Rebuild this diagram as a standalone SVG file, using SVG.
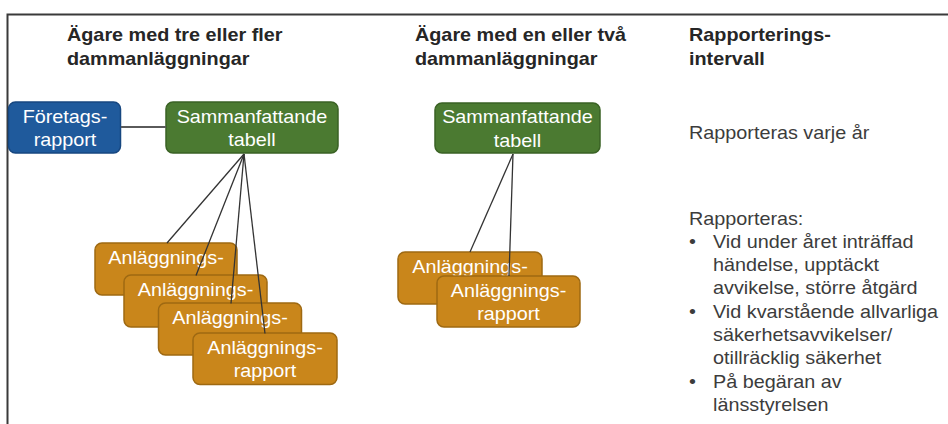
<svg xmlns="http://www.w3.org/2000/svg" width="948" height="424" viewBox="0 0 948 424">
<style>
  text { font-family: "Liberation Sans", Arial, sans-serif; font-size: 18px; }
  .h { font-weight: bold; fill: #262626; }
  .b { fill: #3c3c3c; }
  .nt { fill: #ffffff; text-anchor: middle; }
  .blue { fill: #1F5A9C; stroke: #174780; stroke-width: 1.5; }
  .green { fill: #4B7A31; stroke: #3A6224; stroke-width: 1.5; }
  .orange { fill: #C9861B; stroke: #9E6912; stroke-width: 1.5; }
  .c { stroke: #333333; stroke-width: 1.3; fill: none; }
  .c2 { stroke: #5a5a5a; stroke-width: 1.8; fill: none; }
</style>
<rect width="948" height="424" fill="#ffffff"/>
<path d="M7.5,424 V14.5 H948" fill="none" stroke="#3a3a3a" stroke-width="2"/>

<g id="headings">
  <text class="h" transform="translate(67,41) scale(1.1,1)">Ägare med tre eller fler</text>
  <text class="h" transform="translate(67,65) scale(1.1,1)">dammanläggningar</text>
  <text class="h" transform="translate(415,41) scale(1.1,1)">Ägare med en eller två</text>
  <text class="h" transform="translate(415,65) scale(1.1,1)">dammanläggningar</text>
  <text class="h" transform="translate(689,41) scale(1.1,1)">Rapporterings-</text>
  <text class="h" transform="translate(689,65) scale(1.1,1)">intervall</text>
</g>

<g id="foretagsrapport">
  <rect class="blue" x="8.5" y="102" width="112" height="51" rx="7"/>
  <text class="nt" transform="translate(65,123) scale(1.1,1)">Företags-</text>
  <text class="nt" transform="translate(65,146) scale(1.1,1)">rapport</text>
</g>

<g id="tabell-left">
  <rect class="green" x="166" y="102" width="172" height="51" rx="7"/>
  <text class="nt" transform="translate(252,123) scale(1.1,1)">Sammanfattande</text>
  <text class="nt" transform="translate(252,146) scale(1.1,1)">tabell</text>
</g>

<g id="anl-left-1">
  <rect class="orange" x="95" y="243" width="142" height="52" rx="7"/>
  <text class="nt" transform="translate(166,264) scale(1.1,1)">Anläggnings-</text>
</g>
<g id="anl-left-2">
  <rect class="orange" x="124" y="275" width="143" height="52" rx="7"/>
  <text class="nt" transform="translate(195.5,296) scale(1.1,1)">Anläggnings-</text>
</g>
<g id="anl-left-3">
  <rect class="orange" x="158.5" y="303" width="143" height="52" rx="7"/>
  <text class="nt" transform="translate(230,324) scale(1.1,1)">Anläggnings-</text>
</g>
<g id="anl-left-4">
  <rect class="orange" x="193" y="333" width="144" height="51.5" rx="7"/>
  <text class="nt" transform="translate(265,354) scale(1.1,1)">Anläggnings-</text>
  <text class="nt" transform="translate(265,377) scale(1.1,1)">rapport</text>
</g>

<g id="tabell-right">
  <rect class="green" x="435" y="103" width="165" height="50" rx="7"/>
  <text class="nt" transform="translate(517.5,123) scale(1.1,1)">Sammanfattande</text>
  <text class="nt" transform="translate(517.5,147) scale(1.1,1)">tabell</text>
</g>

<g id="anl-right-1">
  <rect class="orange" x="398" y="252" width="144" height="52" rx="7"/>
  <text class="nt" transform="translate(470,273) scale(1.1,1)">Anläggnings-</text>
</g>
<g id="anl-right-2">
  <rect class="orange" x="437" y="276" width="143" height="51" rx="7"/>
  <text class="nt" transform="translate(508.5,297) scale(1.1,1)">Anläggnings-</text>
  <text class="nt" transform="translate(508.5,320) scale(1.1,1)">rapport</text>
</g>

<g id="connectors">
  <line class="c2" x1="121" y1="127" x2="166" y2="127"/>
  <line class="c" x1="244" y1="154" x2="167" y2="243"/>
  <line class="c" x1="244" y1="154" x2="196" y2="275.5"/>
  <line class="c" x1="244" y1="154" x2="231" y2="303.5"/>
  <line class="c" x1="244" y1="154" x2="265" y2="333.5"/>
  <line class="c" x1="513" y1="154" x2="470" y2="252"/>
  <line class="c" x1="513" y1="154" x2="509" y2="276"/>
</g>

<g id="intervall">
  <text class="b" transform="translate(689,139) scale(1.1,1)">Rapporteras varje år</text>
  <text class="b" transform="translate(689,225) scale(1.1,1)">Rapporteras:</text>
  <text class="b" transform="translate(689,248) scale(1.1,1)">•</text>
  <text class="b" transform="translate(713,248) scale(1.1,1)">Vid under året inträffad</text>
  <text class="b" transform="translate(713,271) scale(1.1,1)">händelse, upptäckt</text>
  <text class="b" transform="translate(713,294) scale(1.1,1)">avvikelse, större åtgärd</text>
  <text class="b" transform="translate(689,318) scale(1.1,1)">•</text>
  <text class="b" transform="translate(713,318) scale(1.1,1)">Vid kvarstående allvarliga</text>
  <text class="b" transform="translate(713,341) scale(1.1,1)">säkerhetsavvikelser/</text>
  <text class="b" transform="translate(713,364) scale(1.1,1)">otillräcklig säkerhet</text>
  <text class="b" transform="translate(689,388) scale(1.1,1)">•</text>
  <text class="b" transform="translate(713,388) scale(1.1,1)">På begäran av</text>
  <text class="b" transform="translate(713,411) scale(1.1,1)">länsstyrelsen</text>
</g>
</svg>
